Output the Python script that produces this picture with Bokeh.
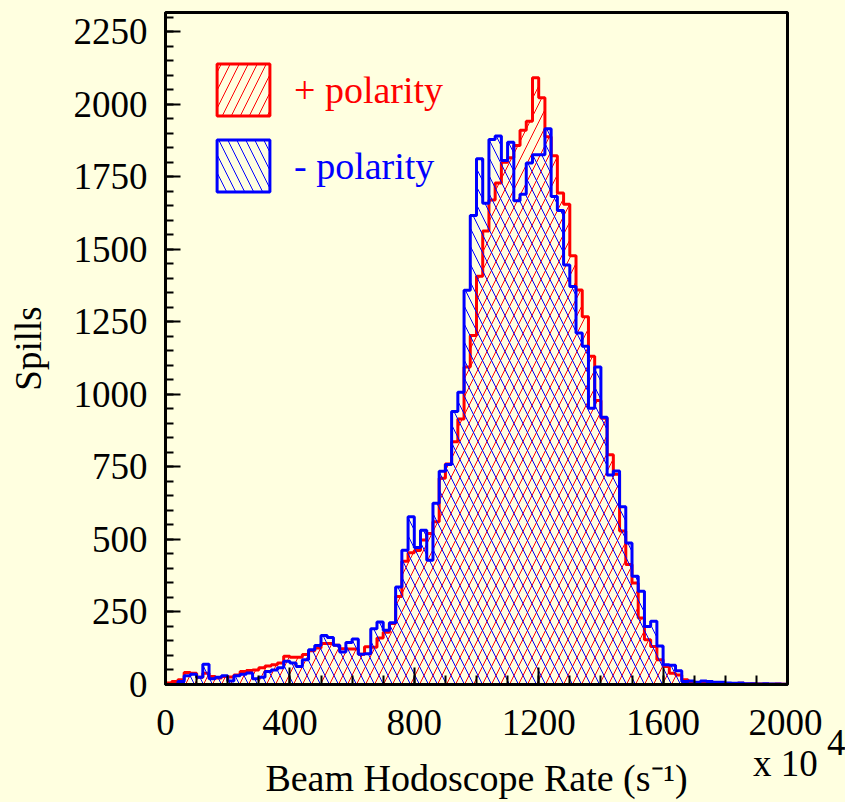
from bokeh.plotting import figure
from bokeh.models import Range1d, SingleIntervalTicker, Legend, LegendItem
from bokeh.embed import file_html
from bokeh.resources import INLINE

# ---- data ----
bin_lo = 0
bin_hi = 2000
n_bins = 100

plus_polarity = [
    5, 10, 16, 41, 39, 25, 39, 28, 22, 28,
    26, 33, 45, 48, 50, 58, 64, 68, 74, 97,
    94, 94, 103, 116, 126, 141, 141, 135, 123, 122,
    122, 104, 130, 128, 160, 180, 210, 303, 425, 454,
    462, 498, 520, 561, 711, 760, 837, 915, 1094, 1203,
    1407, 1563, 1670, 1728, 1800, 1815, 1858, 1910, 1941, 2091,
    2022, 1888, 1822, 1694, 1655, 1478, 1360, 1267, 1131, 979,
    918, 792, 725, 529, 414, 350, 229, 154, 131, 85,
    62, 39, 33, 16, 7, 7, 5, 5, 4, 4,
    3, 3, 4, 2, 3, 2, 2, 1, 2, 1,
]

minus_polarity = [
    0, 0, 10, 30, 35, 25, 70, 20, 25, 30,
    12, 30, 35, 40, 20, 25, 45, 50, 58, 80,
    74, 62, 85, 120, 134, 169, 162, 135, 112, 145,
    157, 104, 106, 192, 215, 187, 213, 336, 463, 578,
    472, 532, 428, 625, 735, 758, 941, 1007, 1359, 1616,
    1812, 1659, 1878, 1890, 1806, 1869, 1667, 1690, 1797, 1826,
    1826, 1915, 1682, 1634, 1446, 1372, 1211, 1166, 952, 1094,
    921, 722, 736, 613, 488, 373, 321, 200, 218, 133,
    68, 66, 47, 10, 12, 8, 12, 10, 8, 8,
    5, 4, 5, 3, 3, 2, 3, 2, 2, 1,
]

series_labels = ["+ polarity", "- polarity"]
x_title = "Beam Hodoscope Rate (s\u207b\u00b9)"
y_title = "Spills"
scale_mantissa = "x 10"
scale_exponent = "4"

BG = "#FFFFE0"
FONT = "Liberation Serif"

width_bin = (bin_hi - bin_lo) / n_bins
edges = [bin_lo + i * width_bin for i in range(n_bins + 1)]


def step_outline(counts):
    xs = [edges[0]]
    ys = [0]
    for i, c in enumerate(counts):
        xs += [edges[i], edges[i + 1]]
        ys += [c, c]
    xs.append(edges[-1])
    ys.append(0)
    return xs, ys


p = figure(
    frame_width=622, frame_height=672,
    x_range=Range1d(bin_lo, bin_hi), y_range=Range1d(0, 2316),
    output_backend="svg", toolbar_location=None,
    min_border_left=165, min_border_right=58,
    min_border_top=12, min_border_bottom=118,
)
p.background_fill_color = BG
p.border_fill_color = BG
p.outline_line_color = "black"
p.outline_line_width = 3
p.xgrid.visible = False
p.ygrid.visible = False

rx, ry = step_outline(plus_polarity)
bx, by = step_outline(minus_polarity)

r_plus = p.patch(rx, ry, fill_alpha=0, line_color="#FF0000", line_width=3,
                 hatch_pattern="/", hatch_color="#FF0000", hatch_scale=18,
                 hatch_weight=1)
r_minus = p.patch(bx, by, fill_alpha=0, line_color="#0000FF", line_width=3,
                  hatch_pattern="\\", hatch_color="#0000FF", hatch_scale=18,
                  hatch_weight=1)

# axes
p.xaxis.ticker = SingleIntervalTicker(interval=400, num_minor_ticks=4)
p.yaxis.ticker = SingleIntervalTicker(interval=250, num_minor_ticks=5)
for ax in (p.xaxis[0], p.yaxis[0]):
    ax.axis_line_width = 3
    ax.major_tick_out = 0
    ax.minor_tick_out = 0
    ax.major_tick_line_width = 2
    ax.minor_tick_line_width = 2
    ax.major_label_text_font = FONT
    ax.major_label_text_font_size = "37px"
    ax.major_label_text_color = "black"
    ax.axis_label_text_font = FONT
    ax.axis_label_text_font_size = "37px"
    ax.axis_label_text_font_style = "normal"
    ax.axis_label_text_color = "black"
p.xaxis.axis_label_text_font_size = "38px"
p.xaxis.major_tick_in = 17
p.xaxis.minor_tick_in = 9
p.yaxis.major_tick_in = 15
p.yaxis.minor_tick_in = 8
p.xaxis.major_label_standoff = 17
p.yaxis.major_label_standoff = 18
# the "x 10^4" scale note sits under the last tick label (exponent raised)
p.xaxis.major_label_text_line_height = 0.5
p.xaxis.major_label_overrides = {
    bin_hi: "%d\n%s%s\n%s" % (bin_hi, "\u00a0" * 11, scale_exponent, scale_mantissa)
}
p.xaxis.axis_label = x_title
p.yaxis.axis_label = y_title
p.xaxis.axis_label_standoff = -30
p.yaxis.axis_label_standoff = 22

# legends (one per series, coloured text)
for r, lab, col, yloc in ((r_plus, series_labels[0], "#FF0000", 562),
                          (r_minus, series_labels[1], "#0000FF", 486)):
    lg = Legend(items=[LegendItem(label=lab, renderers=[r])],
                location=(45, yloc), glyph_width=66, glyph_height=65,
                label_standoff=18, padding=0, margin=0,
                border_line_alpha=0, background_fill_alpha=0,
                label_text_font=FONT, label_text_font_size="38px",
                label_text_color=col)
    p.add_layout(lg, "center")

html = file_html(p, INLINE)
html = html.replace("</head>", "<style>html,body{background:#FFFFE0;}</style></head>", 1)
open("out.html", "w").write(html)
